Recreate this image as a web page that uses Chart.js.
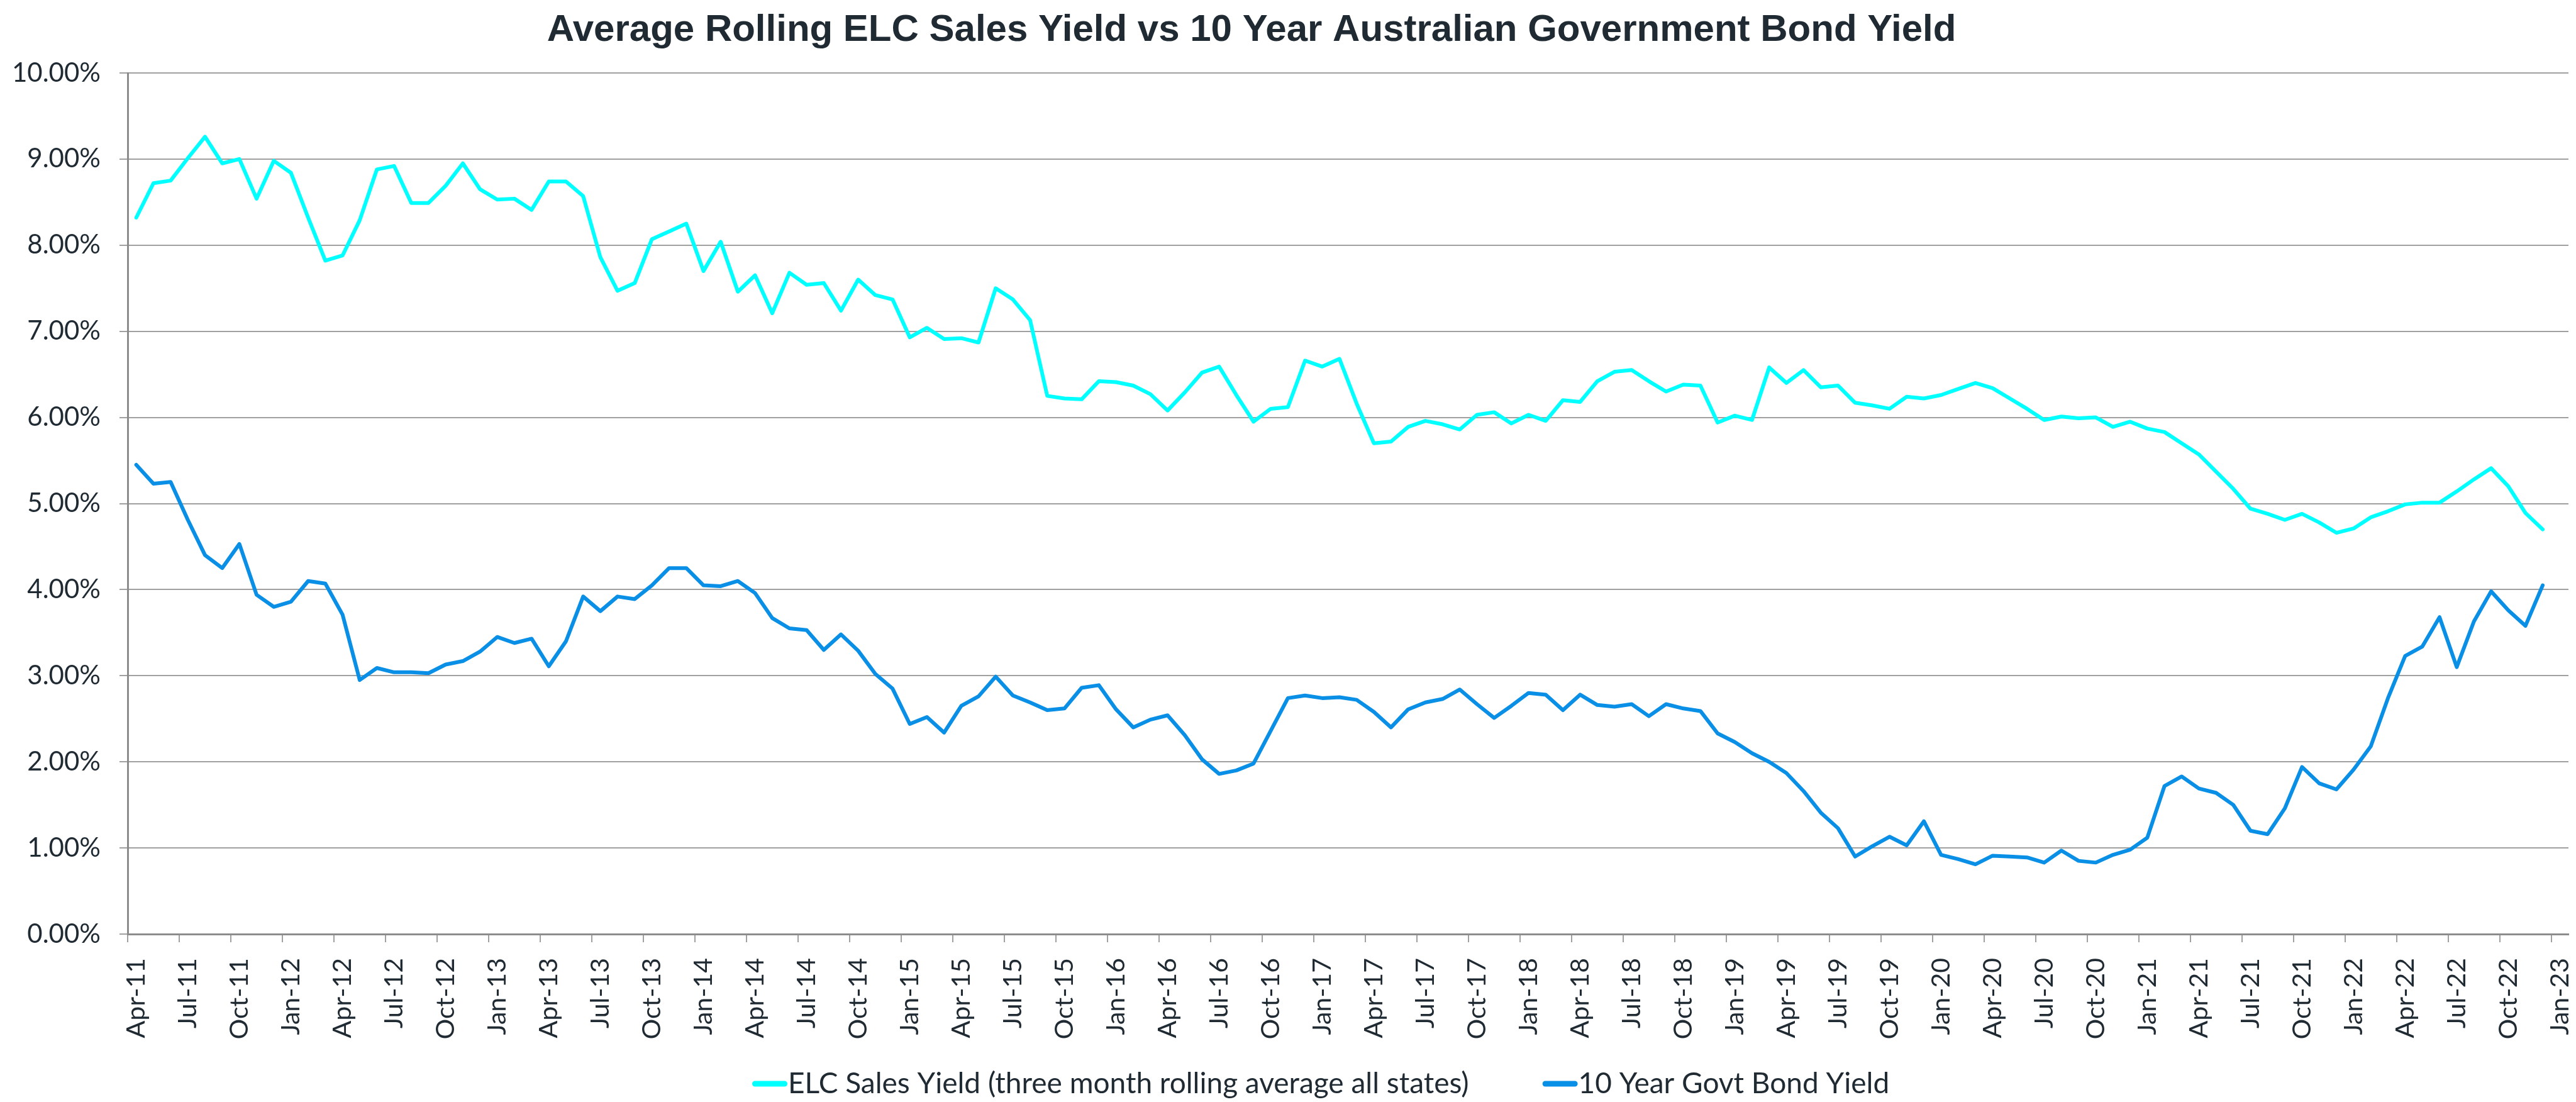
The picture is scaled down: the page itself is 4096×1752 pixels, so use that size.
<!DOCTYPE html>
<html>
<head>
<meta charset="utf-8">
<script src="https://cdn.jsdelivr.net/npm/chart.js@4/dist/chart.umd.min.js"></script>
<style>
  html, body { margin: 0; padding: 0; background: #ffffff; }
  canvas { display: block; }
</style>
</head>
<body>
<canvas id="chart" width="4096" height="1752"></canvas>
<script>
// month categories, Apr-11 .. Jan-23 (last one has no data)
var months = [
  'Apr-11', 'May-11', 'Jun-11', 'Jul-11', 'Aug-11', 'Sep-11', 'Oct-11', 'Nov-11', 'Dec-11',
  'Jan-12', 'Feb-12', 'Mar-12', 'Apr-12', 'May-12', 'Jun-12', 'Jul-12', 'Aug-12', 'Sep-12', 'Oct-12', 'Nov-12', 'Dec-12',
  'Jan-13', 'Feb-13', 'Mar-13', 'Apr-13', 'May-13', 'Jun-13', 'Jul-13', 'Aug-13', 'Sep-13', 'Oct-13', 'Nov-13', 'Dec-13',
  'Jan-14', 'Feb-14', 'Mar-14', 'Apr-14', 'May-14', 'Jun-14', 'Jul-14', 'Aug-14', 'Sep-14', 'Oct-14', 'Nov-14', 'Dec-14',
  'Jan-15', 'Feb-15', 'Mar-15', 'Apr-15', 'May-15', 'Jun-15', 'Jul-15', 'Aug-15', 'Sep-15', 'Oct-15', 'Nov-15', 'Dec-15',
  'Jan-16', 'Feb-16', 'Mar-16', 'Apr-16', 'May-16', 'Jun-16', 'Jul-16', 'Aug-16', 'Sep-16', 'Oct-16', 'Nov-16', 'Dec-16',
  'Jan-17', 'Feb-17', 'Mar-17', 'Apr-17', 'May-17', 'Jun-17', 'Jul-17', 'Aug-17', 'Sep-17', 'Oct-17', 'Nov-17', 'Dec-17',
  'Jan-18', 'Feb-18', 'Mar-18', 'Apr-18', 'May-18', 'Jun-18', 'Jul-18', 'Aug-18', 'Sep-18', 'Oct-18', 'Nov-18', 'Dec-18',
  'Jan-19', 'Feb-19', 'Mar-19', 'Apr-19', 'May-19', 'Jun-19', 'Jul-19', 'Aug-19', 'Sep-19', 'Oct-19', 'Nov-19', 'Dec-19',
  'Jan-20', 'Feb-20', 'Mar-20', 'Apr-20', 'May-20', 'Jun-20', 'Jul-20', 'Aug-20', 'Sep-20', 'Oct-20', 'Nov-20', 'Dec-20',
  'Jan-21', 'Feb-21', 'Mar-21', 'Apr-21', 'May-21', 'Jun-21', 'Jul-21', 'Aug-21', 'Sep-21', 'Oct-21', 'Nov-21', 'Dec-21',
  'Jan-22', 'Feb-22', 'Mar-22', 'Apr-22', 'May-22', 'Jun-22', 'Jul-22', 'Aug-22', 'Sep-22', 'Oct-22', 'Nov-22', 'Dec-22',
  'Jan-23'
];

// ELC sales yield, three month rolling average (%)
var elcYield = [
  8.32, 8.72, 8.75, 9.01, 9.26, 8.95, 9.00, 8.54, 8.98,
  8.84, 8.32, 7.82, 7.88, 8.29, 8.88, 8.92, 8.49, 8.49, 8.69, 8.95, 8.65,
  8.53, 8.54, 8.41, 8.74, 8.74, 8.57, 7.86, 7.47, 7.56, 8.07, 8.16, 8.25,
  7.70, 8.04, 7.46, 7.65, 7.21, 7.68, 7.54, 7.56, 7.24, 7.60, 7.42, 7.37,
  6.93, 7.04, 6.91, 6.92, 6.87, 7.50, 7.37, 7.13, 6.25, 6.22, 6.21, 6.42,
  6.41, 6.37, 6.27, 6.08, 6.29, 6.52, 6.59, 6.26, 5.95, 6.10, 6.12, 6.66,
  6.59, 6.68, 6.16, 5.70, 5.72, 5.89, 5.96, 5.92, 5.86, 6.03, 6.06, 5.93,
  6.03, 5.96, 6.20, 6.18, 6.42, 6.53, 6.55, 6.42, 6.30, 6.38, 6.37, 5.94,
  6.02, 5.97, 6.58, 6.40, 6.55, 6.35, 6.37, 6.17, 6.14, 6.10, 6.24, 6.22,
  6.26, 6.33, 6.40, 6.34, 6.22, 6.10, 5.97, 6.01, 5.99, 6.00, 5.89, 5.95,
  5.87, 5.83, 5.70, 5.57, 5.37, 5.17, 4.94, 4.88, 4.81, 4.88, 4.78, 4.66,
  4.71, 4.84, 4.91, 4.99, 5.01, 5.01, 5.14, 5.28, 5.41, 5.20, 4.89, 4.70,
  null
];

// 10 year Australian government bond yield (%)
var bondYield = [
  5.45, 5.23, 5.25, 4.81, 4.40, 4.25, 4.53, 3.94, 3.80,
  3.86, 4.10, 4.07, 3.71, 2.95, 3.09, 3.04, 3.04, 3.03, 3.13, 3.17, 3.28,
  3.45, 3.38, 3.43, 3.11, 3.40, 3.92, 3.75, 3.92, 3.89, 4.05, 4.25, 4.25,
  4.05, 4.04, 4.10, 3.96, 3.67, 3.55, 3.53, 3.30, 3.48, 3.29, 3.02, 2.85,
  2.44, 2.52, 2.34, 2.65, 2.76, 2.99, 2.77, 2.69, 2.60, 2.62, 2.86, 2.89,
  2.61, 2.40, 2.49, 2.54, 2.31, 2.03, 1.86, 1.90, 1.98, 2.36, 2.74, 2.77,
  2.74, 2.75, 2.72, 2.58, 2.40, 2.61, 2.69, 2.73, 2.84, 2.67, 2.51, 2.65,
  2.80, 2.78, 2.60, 2.78, 2.66, 2.64, 2.67, 2.53, 2.67, 2.62, 2.59, 2.33,
  2.23, 2.10, 2.00, 1.87, 1.66, 1.41, 1.23, 0.90, 1.02, 1.13, 1.03, 1.31,
  0.92, 0.87, 0.81, 0.91, 0.90, 0.89, 0.83, 0.97, 0.85, 0.83, 0.92, 0.98,
  1.12, 1.72, 1.83, 1.69, 1.64, 1.50, 1.20, 1.16, 1.46, 1.94, 1.75, 1.68,
  1.91, 2.18, 2.74, 3.23, 3.34, 3.68, 3.10, 3.63, 3.98, 3.76, 3.58, 4.05,
  null
];

var seriesNames = ['ELC Sales Yield (three month rolling average all states)', '10 Year Govt Bond Yield'];
var seriesColors = ['#00ffff', '#0a8fe6'];
var chartTitle = 'Average Rolling ELC Sales Yield vs 10 Year Australian Government Bond Yield';

var textColor = '#1f2a33';
var gridColor = '#a0a0a0';
var axisColor = '#8c8c8c';

// title and legend are drawn by hand so they sit where Excel put them
var titleAndLegend = {
  id: 'titleAndLegend',
  afterDraw: function(chart) {
    var c = chart.ctx;
    c.save();
    c.fillStyle = textColor;
    c.textBaseline = 'middle';
    c.textAlign = 'center';
    c.font = 'bold 60px "Liberation Sans", Arial, sans-serif';
    c.fillText(chartTitle, 1990, 48);

    c.textAlign = 'left';
    c.font = '46px Lato, "Open Sans", sans-serif';
    var y = 1723;
    var x = 1196;
    for (var i = 0; i < seriesNames.length; i++) {
      c.strokeStyle = seriesColors[i];
      c.lineWidth = 9;
      c.lineCap = 'round';
      c.beginPath();
      c.moveTo(x + 4.5, y);
      c.lineTo(x + 51.5, y);
      c.stroke();
      c.fillText(seriesNames[i], x + 57, y);
      x = x + 57 + c.measureText(seriesNames[i]).width + 117;
    }
    c.restore();
  }
};

var chartView = document.getElementById('chart');
var chart = new Chart(chartView, {
  type: 'line',
  data: {
    labels: months,
    datasets: [{
      label: seriesNames[0],
      data: elcYield,
      borderColor: seriesColors[0],
      backgroundColor: seriesColors[0],
      borderWidth: 6,
      pointRadius: 0,
      tension: 0,
      borderJoinStyle: 'round',
      borderCapStyle: 'round'
    }, {
      label: seriesNames[1],
      data: bondYield,
      borderColor: seriesColors[1],
      backgroundColor: seriesColors[1],
      borderWidth: 6,
      pointRadius: 0,
      tension: 0,
      borderJoinStyle: 'round',
      borderCapStyle: 'round'
    }]
  },
  options: {
    responsive: false,
    animation: false,
    devicePixelRatio: 1,
    layout: { padding: { top: 116, right: 12, bottom: 0, left: 0 } },
    plugins: {
      legend: { display: false },
      title: { display: false },
      tooltip: { enabled: false }
    },
    scales: {
      x: {
        offset: true,
        grid: {
          offset: true,
          drawOnChartArea: false,
          drawTicks: true,
          tickLength: 13,
          lineWidth: 2,
          tickColor: function(ctx) { return ctx.index % 3 === 0 ? gridColor : 'rgba(0,0,0,0)'; }
        },
        border: { display: true, color: axisColor, width: 3 },
        ticks: {
          autoSkip: false,
          minRotation: 90,
          maxRotation: 90,
          padding: 25,
          color: textColor,
          font: { family: 'Lato, "Open Sans", sans-serif', size: 41 },
          callback: function(value, index) { return index % 3 === 0 ? months[index] : ''; }
        },
        afterFit: function(scale) {
          scale.height = 267;
          // the rotated last label must not pull the plot in from the right
          scale.paddingLeft = 0;
          scale.paddingRight = 0;
        }
      },
      y: {
        min: 0,
        max: 10,
        grid: {
          color: gridColor,
          lineWidth: 2,
          tickLength: 13,
          tickColor: gridColor
        },
        border: { display: true, color: axisColor, width: 3 },
        ticks: {
          stepSize: 1,
          padding: 30,
          color: textColor,
          font: { family: 'Lato, "Open Sans", sans-serif', size: 42 },
          callback: function(value) { return value.toFixed(2) + '%'; }
        },
        afterFit: function(scale) { scale.width = 203; }
      }
    }
  },
  plugins: [titleAndLegend]
});
</script>
</body>
</html>
